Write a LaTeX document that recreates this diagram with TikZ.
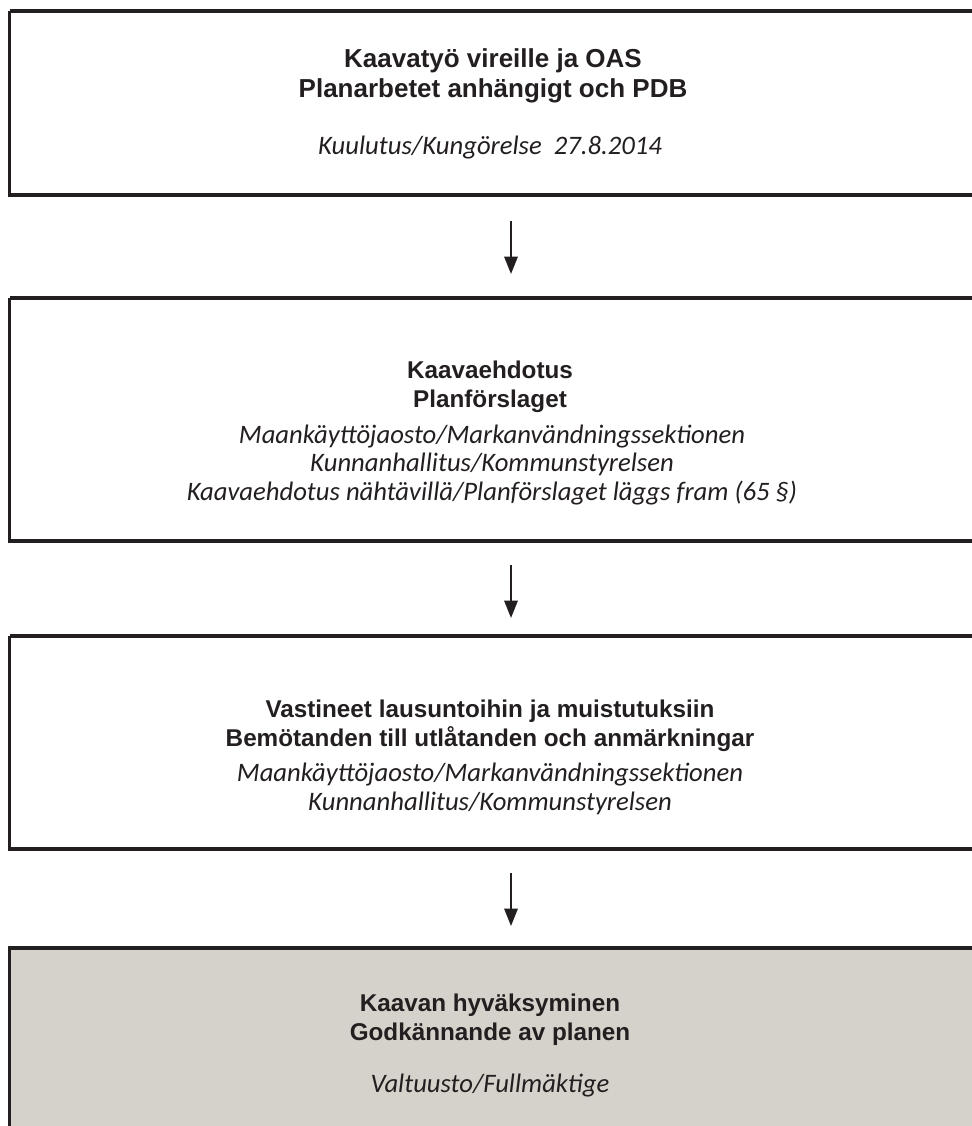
\documentclass[tikz,border=0pt]{standalone}
\usepackage{fontspec}
\setmainfont{Liberation Sans}
\newfontfamily\itfont{Carlito}
\usetikzlibrary{arrows.meta}
\definecolor{boxfill}{RGB}{213,210,203}
\definecolor{lineclr}{RGB}{35,31,32}
\tikzset{
  stagebox/.style={draw=lineclr, line width=2.4pt},
  title/.style={font=\fontsize{18.2}{22}\selectfont\bfseries, align=center, text=lineclr, inner sep=0pt},
  bigtitle/.style={title, font=\fontsize{19.5}{22.5}\selectfont\bfseries},
  sub/.style={font=\fontsize{20}{21.5}\selectfont\itfont\itshape, align=center, text=lineclr, inner sep=0pt},
  flow/.style={draw=lineclr, line width=1.6pt, -{Triangle[length=13pt,width=10pt]}}
}
\begin{document}
\begin{tikzpicture}[x=0.75pt,y=-0.75pt]
\useasboundingbox (0,0) rectangle (971,1126);
% boxes
\draw[stagebox] (9.5,11) -- (1000,11) (1000,195) -- (9.5,195) -- (9.5,11);
\draw[stagebox] (9.5,298) -- (1000,298) (1000,541) -- (9.5,541) -- (9.5,298);
\draw[stagebox] (9.5,636) -- (1000,636) (1000,849) -- (9.5,849) -- (9.5,636);
\fill[boxfill] (9.5,948) rectangle (1000,1130);
\draw[stagebox] (9.5,1130) -- (9.5,948) -- (1000,948);
% texts
\node[bigtitle] (t1) at (493,76) {Kaavatyö vireille ja OAS\\Planarbetet anhängigt och PDB};
\node[sub] (s1) at (490,148) {Kuulutus/Kungörelse\ \ 27.8.2014};
\node[title] (t2) at (490,387) {Kaavaehdotus\\Planförslaget};
\node[sub] (s2) at (492,465) {Maankäyttöjaosto/Markanvändningssektionen\\Kunnanhallitus/Kommunstyrelsen\\Kaavaehdotus nähtävillä/Planförslaget läggs fram (65 §)};
\node[title] (t3) at (490,726) {Vastineet lausuntoihin ja muistutuksiin\\Bemötanden till utlåtanden och anmärkningar};
\node[sub] (s3) at (490,789) {Maankäyttöjaosto/Markanvändningssektionen\\Kunnanhallitus/Kommunstyrelsen};
\node[title] (t4) at (490,1020) {Kaavan hyväksyminen\\Godkännande av planen};
\node[sub] (s4) at (490,1086) {Valtuusto/Fullmäktige};
% arrows
\coordinate (a1s) at (511,221); \coordinate (a1e) at (511,274);
\coordinate (a2s) at (511,565); \coordinate (a2e) at (511,618);
\coordinate (a3s) at (511,873); \coordinate (a3e) at (511,926);
\draw[flow] (a1s) -- (a1e);
\draw[flow] (a2s) -- (a2e);
\draw[flow] (a3s) -- (a3e);
\end{tikzpicture}
\end{document}
